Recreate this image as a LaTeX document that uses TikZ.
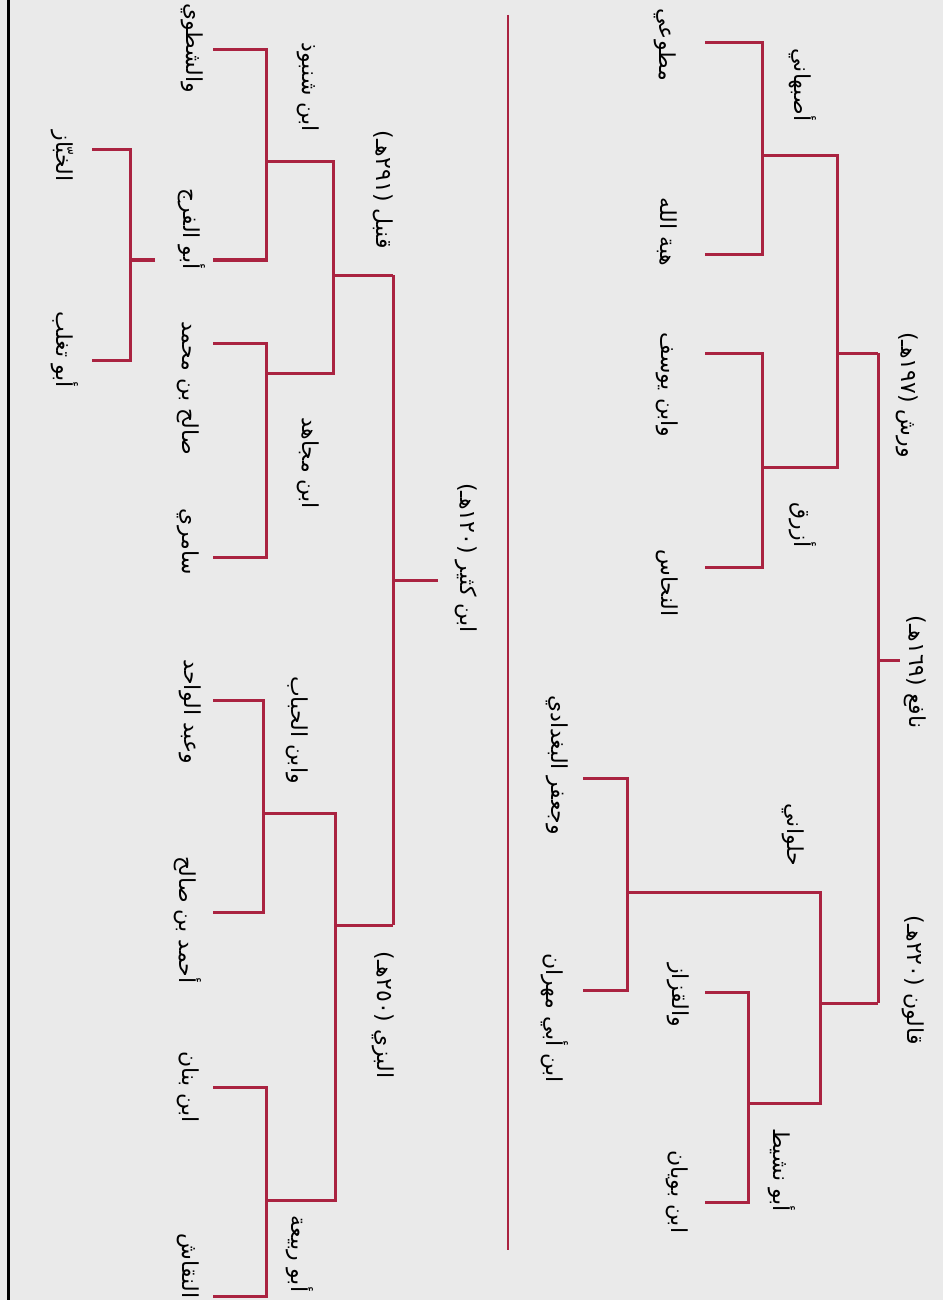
\documentclass[tikz,border=0pt]{standalone}
\usepackage{fontspec}
\newfontfamily\arabicfont[Script=Arabic]{DejaVu Sans}
\TeXXeTstate=1
\definecolor{bracketred}{RGB}{170,35,65}
\definecolor{paper}{RGB}{234,234,234}
\begin{document}
\begin{tikzpicture}[x=0.5pt,y=-0.5pt,
  br/.style={draw=bracketred,line width=1.5pt,line join=miter},
  sep/.style={draw=bracketred,line width=1.1pt},
  lab/.style={inner sep=0pt,rotate=-90,font=\arabicfont\fontsize{11}{13}\selectfont,text=black}]
\useasboundingbox (0,0) rectangle (943,1300);
\clip (0,0) rectangle (943,1300);
\fill[paper] (0,0) rectangle (943,1300);
\draw[black,line width=1.5pt] (8,0) -- (8,1300);
% ---------------- upper tree (Nafi') ----------------
\coordinate (nR) at (900,660); \coordinate (nV) at (878,660);
\coordinate (v0t) at (878,353); \coordinate (v0b) at (878,1003);
\coordinate (w1) at (837,353); \coordinate (w1t) at (837,156); \coordinate (w1b) at (837,467);
\coordinate (a1) at (762,156); \coordinate (a1t) at (762,43); \coordinate (a1b) at (762,255);
\coordinate (l1) at (705,43); \coordinate (l2) at (705,255);
\coordinate (z1) at (762,467); \coordinate (z1t) at (762,353); \coordinate (z1b) at (762,567);
\coordinate (l3) at (705,353); \coordinate (l4) at (705,567);
\coordinate (q1) at (820,1003); \coordinate (q1t) at (820,892); \coordinate (q1b) at (820,1103);
\coordinate (h1) at (627,892); \coordinate (h1t) at (627,778); \coordinate (h1b) at (627,990);
\coordinate (l5) at (583,778); \coordinate (l6) at (583,990);
\coordinate (b1) at (748,1103); \coordinate (b1t) at (748,992); \coordinate (b1b) at (748,1202);
\coordinate (l7) at (705,992); \coordinate (l8) at (705,1202);
\draw[br] (nV) -- (nR);
\draw[br] (v0t) -- (v0b);
\draw[br] (v0t) -- (w1);
\draw[br] (a1) -- (w1t) -- (w1b) -- (z1);
\draw[br] (l1) -- (a1t) -- (a1b) -- (l2);
\draw[br] (l3) -- (z1t) -- (z1b) -- (l4);
\draw[br] (v0b) -- (q1);
\draw[br] (h1) -- (q1t) -- (q1b) -- (b1);
\draw[br] (l5) -- (h1t) -- (h1b) -- (l6);
\draw[br] (l7) -- (b1t) -- (b1b) -- (l8);
\node[lab] (nafi) at (915,672) {\beginR نافع (١٦٩هـ)\endR};
\node[lab] (warsh) at (907,395) {\beginR ورش (١٩٧هـ)\endR};
\node[lab] (qalun) at (913,980) {\beginR قالون (٢٢٠هـ)\endR};
\node[lab] (asb) at (803,85) {\beginR أصبهاني\endR};
\node[lab] (azraq) at (803,525) {\beginR أزرق\endR};
\node[lab] (mutawwii) at (665,45) {\beginR مطوعي\endR};
\node[lab] (hibat) at (667,232) {\beginR هبة الله\endR};
\node[lab] (ibnyusuf) at (667,385) {\beginR وابن يوسف\endR};
\node[lab] (nahhas) at (667,583) {\beginR النحاس\endR};
\node[lab] (hulwani) at (793,835) {\beginR حلواني\endR};
\node[lab] (jafar) at (557,765) {\beginR وجعفر البغدادي\endR};
\node[lab] (mihran) at (555,1018) {\beginR ابن أبي مهران\endR};
\node[lab] (nashit) at (782,1170) {\beginR أبو نشيط\endR};
\node[lab] (qazzaz) at (678,995) {\beginR والقزاز\endR};
\node[lab] (buyan) at (677,1192) {\beginR ابن بويان\endR};
% separator
\coordinate (st) at (508,15); \coordinate (sb) at (508,1250);
\draw[sep] (st) -- (sb);
% ---------------- lower tree (Ibn Kathir) ----------------
\coordinate (kR) at (438,580); \coordinate (kV) at (393,580);
\coordinate (k0t) at (393,275); \coordinate (k0b) at (393,925);
\coordinate (qn) at (333,275); \coordinate (qnt) at (333,162); \coordinate (qnb) at (333,373);
\coordinate (sh) at (266,162); \coordinate (sht) at (266,50); \coordinate (shb) at (266,260);
\coordinate (m1) at (213,50); \coordinate (m2) at (213,260);
\coordinate (fj) at (155,260); \coordinate (fjv) at (130,260); \coordinate (fjt) at (130,150); \coordinate (fjb) at (130,360);
\coordinate (m3) at (92,150); \coordinate (m4) at (92,360);
\coordinate (mj) at (266,373); \coordinate (mjt) at (266,343); \coordinate (mjb) at (266,557);
\coordinate (m5) at (213,343); \coordinate (m6) at (213,557);
\coordinate (bz) at (335,925); \coordinate (bzt) at (335,813); \coordinate (bzb) at (335,1200);
\coordinate (hb) at (263,813); \coordinate (hbt) at (263,700); \coordinate (hbb) at (263,912);
\coordinate (m7) at (213,700); \coordinate (m8) at (213,912);
\coordinate (rb) at (266,1200); \coordinate (rbt) at (266,1087); \coordinate (rbb) at (266,1296);
\coordinate (m9) at (213,1087); \coordinate (m10) at (213,1296);
\draw[br] (kV) -- (kR);
\draw[br] (k0t) -- (k0b);
\draw[br] (k0t) -- (qn);
\draw[br] (sh) -- (qnt) -- (qnb) -- (mj);
\draw[br] (m1) -- (sht) -- (shb) -- (m2);
\draw[br] (fj) -- (fjv);
\draw[br] (m3) -- (fjt) -- (fjb) -- (m4);
\draw[br] (m5) -- (mjt) -- (mjb) -- (m6);
\draw[br] (k0b) -- (bz);
\draw[br] (hb) -- (bzt) -- (bzb) -- (rb);
\draw[br] (m7) -- (hbt) -- (hbb) -- (m8);
\draw[br] (m9) -- (rbt) -- (rbb) -- (m10);
\node[lab] (kathir) at (466,558) {\beginR ابن كثير (١٢٠هـ)\endR};
\node[lab] (qunbul) at (383,190) {\beginR قنبل (٢٩١هـ)\endR};
\node[lab] (bazzi) at (383,1015) {\beginR البزي (٢٥٠هـ)\endR};
\node[lab] (shanbudh) at (308,87) {\beginR ابن شنبوذ\endR};
\node[lab] (mujahid) at (308,463) {\beginR ابن مجاهد\endR};
\node[lab] (shatawi) at (192,48) {\beginR والشطوي\endR};
\node[lab] (faraj) at (192,229) {\beginR أبو الفرج\endR};
\node[lab] (khabbaz) at (62,156) {\beginR الخبّاز\endR};
\node[lab] (taghlib) at (65,350) {\beginR أبو تغلب\endR};
\node[lab] (salih) at (188,388) {\beginR صالح بن محمد\endR};
\node[lab] (samiri) at (188,542) {\beginR سامري\endR};
\node[lab] (habbab) at (297,730) {\beginR وابن الحباب\endR};
\node[lab] (wahid) at (190,712) {\beginR وعبد الواحد\endR};
\node[lab] (ahmad) at (188,920) {\beginR أحمد بن صالح\endR};
\node[lab] (rabia) at (300,1254) {\beginR أبو ربيعة\endR};
\node[lab] (banan) at (188,1087) {\beginR ابن بنان\endR};
\node[lab] (naqqash) at (188,1266) {\beginR النقاش\endR};
\end{tikzpicture}
\end{document}
